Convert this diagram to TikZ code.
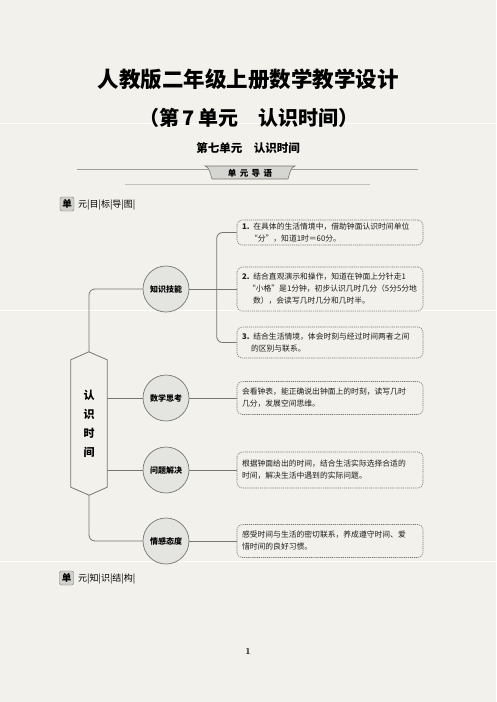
\documentclass[tikz,border=0pt]{standalone}
\usepackage{fontspec}
\newfontfamily\cjk{Noto Sans CJK SC}
\usetikzlibrary{positioning}
\definecolor{paper}{RGB}{242,241,235}
\definecolor{linegray}{RGB}{118,118,114}
\definecolor{ballgray}{RGB}{228,228,225}
\definecolor{inkgray}{RGB}{30,30,30}

\tikzset{
	conn/.style={draw=linegray, line width=0.8pt},
	aimbox/.style={draw=linegray, line width=0.6pt, dash pattern=on 1.2pt off 0.9pt, rounded corners=5pt, inner xsep=5pt, inner ysep=2pt, text width=176pt, align=left, text=inkgray, font=\cjk\fontsize{7.8}{12}\selectfont},
	ball/.style={circle, draw=linegray, line width=0.7pt, fill=ballgray, minimum size=46pt, inner sep=0pt, font=\cjk\bfseries\fontsize{8}{9}\selectfont},
	tag/.style={draw=linegray, fill=ballgray!80!gray, rounded corners=2pt, minimum width=14pt, minimum height=14pt, inner sep=0pt, font=\cjk\bfseries\fontsize{9.5}{10}\selectfont},
	tagtext/.style={anchor=west, inner sep=0pt, font=\cjk\fontsize{9}{10}\selectfont}
}

\begin{document}
\begin{tikzpicture}[
	x=1pt, y=-1pt
	]
	
	\useasboundingbox (0, 0) rectangle (496, 702);
	\fill [paper] (0, 0) rectangle (496, 702);
	\draw [white, line width=0.7pt] (0, 123) -- (496, 123);
	\draw [white, line width=0.7pt] (0, 310) -- (496, 310);
	\draw [white, line width=0.7pt] (0, 561) -- (496, 561);
	
	% heading
	\node (title) at (248, 79) [font=\cjk\bfseries\fontsize{21.5}{24}\selectfont] {人教版二年级上册数学教学设计};
	\node (unit) at (249, 118) [font=\cjk\bfseries\fontsize{20}{24}\selectfont] {（第\,7\,单元\hspace{1em}认识时间）};
	\node (subtitle) at (248, 148) [font=\cjk\bfseries\fontsize{11.5}{13}\selectfont] {第七单元\hspace{1em}认识时间};
	
	\draw [linegray!70, line width=0.5pt] (77, 169) -- (418, 169);
	\filldraw [fill=ballgray!85!gray, draw=linegray, line width=0.6pt] (205, 166) .. controls (209, 167) and (210, 172) .. (212, 179) -- (288, 179) .. controls (290, 172) and (291, 167) .. (295, 166) -- cycle;
	\node (guide) at (250, 173) [inner sep=0pt, font=\cjk\bfseries\fontsize{8.5}{9}\selectfont] {单\,\ 元\,\ 导\,\ 语};
	\draw [linegray!45, line width=0.7pt] (125, 184) -- (370, 184);
	
	\node (tag1) at (67, 204) [tag] {单};
	\node (goalmap) at (78, 204.5) [tagtext] {元|目|标|导|图|};
	
	% mind map
	\node (hex) at (89, 423.5) [minimum width=36pt, minimum height=127pt, inner sep=0pt, align=center, font=\cjk\bfseries\fontsize{11}{19}\selectfont] {认\\识\\时\\间};
	\draw [conn] (hex.north west) -- ++(18, -8) -- (hex.north east) -- (hex.south east) -- ++(-18, 8) -- (hex.south west) -- cycle;
	
	\node (c1) at (166, 289) [ball] {知识技能};
	\node (c2) at (166, 398) [ball] {数学思考};
	\node (c3) at (166, 470) [ball] {问题解决};
	\node (c4) at (166, 541) [ball] {情感态度};
	
	\node (b1) at (330, 232.5) [aimbox, minimum height=25pt] {\textbf{1.} 在具体的生活情境中，借助钟面认识时间单位\\\hspace*{8pt}“分”，知道1时＝60分。};
	\node (b2) at (330, 289) [aimbox, minimum height=44pt] {\textbf{2.} 结合直观演示和操作，知道在钟面上分针走1\\\hspace*{6pt}“小格”是1分钟，初步认识几时几分（5分5分地\\\hspace*{11pt}数），会读写几时几分和几时半。};
	\node (b3) at (330, 342.5) [aimbox, minimum height=31pt] {\textbf{3.} 结合生活情境，体会时刻与经过时间两者之间\\\hspace*{9pt}的区别与联系。};
	\node (b4) at (330, 398) [aimbox, minimum height=33pt] {会看钟表，能正确说出钟面上的时刻，读写几时\\几分，发展空间思维。};
	\node (b5) at (330, 470) [aimbox, minimum height=36pt] {根据钟面给出的时间，结合生活实际选择合适的\\时间，解决生活中遇到的实际问题。};
	\node (b6) at (330, 541) [aimbox, minimum height=33pt] {感受时间与生活的密切联系，养成遵守时间、爱\\惜时间的良好习惯。};
	
	\draw [conn, rounded corners=6pt] (hex.north) ++(0, -8) |- (c1);
	\draw [conn, rounded corners=6pt] (hex.south) ++(0, 8) |- (c4);
	\draw [conn] (hex.east |- c2) -- (c2);
	\draw [conn] (hex.east |- c3) -- (c3);
	\draw [conn] (c1) -- (b2);
	\draw [conn, rounded corners=6pt] (b1.west) -- ++(-20, 0) |- (b3.west);
	\draw [conn] (c2) -- (b4);
	\draw [conn] (c3) -- (b5);
	\draw [conn] (c4) -- (b6);
	
	\node (tag2) at (66.5, 578) [tag] {单};
	\node (structure) at (78, 578.5) [tagtext] {元|知|识|结|构|};
	
	\node (page) at (248, 652) [font=\bfseries\fontsize{9}{10}\selectfont] {1};
\end{tikzpicture}
\end{document}
